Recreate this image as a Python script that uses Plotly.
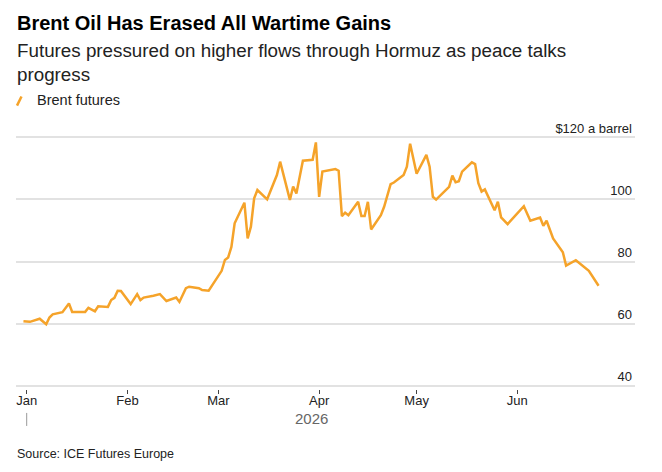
import plotly.graph_objects as go
import pandas as pd

# ---- data ----
dates = [
    "2025-12-31", "2026-01-02", "2026-01-05", "2026-01-07", "2026-01-08", "2026-01-09",
    "2026-01-12", "2026-01-14", "2026-01-15", "2026-01-19", "2026-01-20", "2026-01-22",
    "2026-01-23", "2026-01-26", "2026-01-27", "2026-01-28", "2026-01-29", "2026-01-30",
    "2026-02-02", "2026-02-04", "2026-02-05", "2026-02-06", "2026-02-09", "2026-02-11",
    "2026-02-13", "2026-02-15", "2026-02-16", "2026-02-17", "2026-02-19", "2026-02-20",
    "2026-02-23", "2026-02-24", "2026-02-26", "2026-03-02", "2026-03-03", "2026-03-04",
    "2026-03-05", "2026-03-06", "2026-03-07", "2026-03-09", "2026-03-10", "2026-03-11",
    "2026-03-12", "2026-03-13", "2026-03-16", "2026-03-18", "2026-03-19", "2026-03-20",
    "2026-03-23", "2026-03-24", "2026-03-25", "2026-03-27", "2026-03-30", "2026-03-31",
    "2026-04-01", "2026-04-02", "2026-04-06", "2026-04-07", "2026-04-08", "2026-04-09",
    "2026-04-10", "2026-04-13", "2026-04-14", "2026-04-15", "2026-04-16", "2026-04-17",
    "2026-04-20", "2026-04-21", "2026-04-23", "2026-04-24", "2026-04-27", "2026-04-28",
    "2026-04-29", "2026-05-01", "2026-05-04", "2026-05-05", "2026-05-06", "2026-05-07",
    "2026-05-11", "2026-05-12", "2026-05-13", "2026-05-14", "2026-05-15", "2026-05-18",
    "2026-05-19", "2026-05-20", "2026-05-21", "2026-05-22", "2026-05-25", "2026-05-26",
    "2026-05-27", "2026-05-29", "2026-06-03", "2026-06-05", "2026-06-08", "2026-06-09",
    "2026-06-10", "2026-06-12", "2026-06-15", "2026-06-16", "2026-06-19", "2026-06-23",
    "2026-06-26",
]
brent = [
    60.8, 60.6, 61.6, 59.8, 62.0, 63.0,
    63.7, 66.5, 63.8, 63.8, 65.1, 64.0,
    65.6, 65.4, 67.6, 68.3, 70.6, 70.5,
    66.3, 69.5, 67.6, 68.4, 69.0, 69.5,
    67.3, 68.1, 68.4, 67.0, 71.4, 71.9,
    71.4, 70.8, 70.6, 77.0, 80.5, 81.3,
    84.7, 92.3, 94.4, 98.9, 87.4, 91.2,
    100.3, 103.0, 100.0, 105.2, 107.8, 112.1,
    99.8, 104.1, 101.9, 112.4, 112.7, 118.3,
    100.8, 108.9, 109.7, 109.2, 94.6, 95.7,
    94.9, 99.2, 94.6, 94.6, 99.2, 90.3,
    94.9, 97.6, 104.9, 105.4, 107.8, 110.5,
    117.9, 108.2, 114.3, 110.5, 100.8, 99.9,
    104.0, 107.6, 105.5, 105.8, 108.9, 111.9,
    111.3, 105.2, 102.5, 103.2, 96.5, 99.2,
    94.2, 92.0, 97.8, 93.1, 94.1, 91.5,
    93.1, 87.4, 83.0, 78.7, 80.4, 77.0,
    72.2,
]

month_ticks = ["2026-01-01", "2026-02-01", "2026-03-01", "2026-04-01", "2026-05-01", "2026-06-01"]
month_labels = ["Jan", "Feb", "Mar", "Apr", "May", "Jun"]
y_ticks = [40, 60, 80, 100, 120]
y_labels = ["40", "60", "80", "100", "$120 a barrel"]
year_label = "2026"

title = "Brent Oil Has Erased All Wartime Gains"
subtitle = "Futures pressured on higher flows through Hormuz as peace talks<br>progress"
series_name = "Brent futures"
source = "Source: ICE Futures Europe"

ORANGE = "#F5A32A"
FONT = "Liberation Sans, Arial, sans-serif"

W, H = 662, 472
L, R, T, B = 16, 27, 134.4, 82.9
pw, ph = W - L - R, H - T - B


def px(xp):
    return (xp - L) / pw


def py(yp):
    return (H - B - yp) / ph


fig = go.Figure()
fig.add_trace(go.Scatter(
    x=dates, y=brent, mode="lines", name=series_name,
    line=dict(color=ORANGE, width=2.5), showlegend=False,
))

fig.update_layout(
    width=W, height=H,
    margin=dict(l=L, r=R, t=T, b=B),
    paper_bgcolor="white", plot_bgcolor="white",
    font=dict(family=FONT, color="#222"),
    xaxis=dict(
        type="date",
        range=["2025-12-28 17:00", "2026-07-07 05:00"],
        tickvals=month_ticks, ticktext=month_labels,
        ticks="outside", ticklen=4, tickwidth=1, tickcolor="#444",
        ticklabelstandoff=-5,
        showgrid=False, showline=False, zeroline=False,
        tickfont=dict(size=13, color="#222"),
    ),
    yaxis=dict(
        range=[39, 121], side="right",
        tickvals=y_ticks, ticktext=y_labels,
        ticklabelposition="inside top", ticklabeloverflow="allow",
        showgrid=True, gridcolor="#e2e2e2", gridwidth=2,
        showline=False, zeroline=False, ticks="",
        tickfont=dict(size=13, color="#222"),
    ),
)

# midpoint of the data span for the year label
dt = pd.to_datetime(dates)
mid = dt.min() + (dt.max() - dt.min()) / 2

fig.add_annotation(x=mid, xref="x", y=py(419), yref="paper", text=year_label,
                   showarrow=False, font=dict(size=15, color="#666"),
                   xanchor="center", yanchor="middle")
fig.add_shape(type="line", xref="x", yref="paper", x0=month_ticks[0], x1=month_ticks[0],
              y0=py(413), y1=py(426), line=dict(color="#999", width=1))

fig.add_annotation(x=px(15), xref="paper", y=py(23.5), yref="paper",
                   text="<b>" + title + "</b>", showarrow=False,
                   font=dict(size=20, color="#000"), xanchor="left", yanchor="middle")
fig.add_annotation(x=px(15), xref="paper", y=py(39), yref="paper",
                   text=subtitle, showarrow=False, align="left",
                   font=dict(size=18.8, color="#222"), xanchor="left", yanchor="top")
fig.add_annotation(x=px(35), xref="paper", y=py(100.5), yref="paper",
                   text=series_name, showarrow=False,
                   font=dict(size=14.5, color="#222"), xanchor="left", yanchor="middle")
fig.add_shape(type="line", xref="paper", yref="paper",
              x0=px(17), y0=py(106), x1=px(21.5), y1=py(97),
              line=dict(color=ORANGE, width=2.5))
fig.add_annotation(x=px(15), xref="paper", y=py(454), yref="paper",
                   text=source, showarrow=False,
                   font=dict(size=12.5, color="#222"), xanchor="left", yanchor="middle")

fig.write_html("out.html")
